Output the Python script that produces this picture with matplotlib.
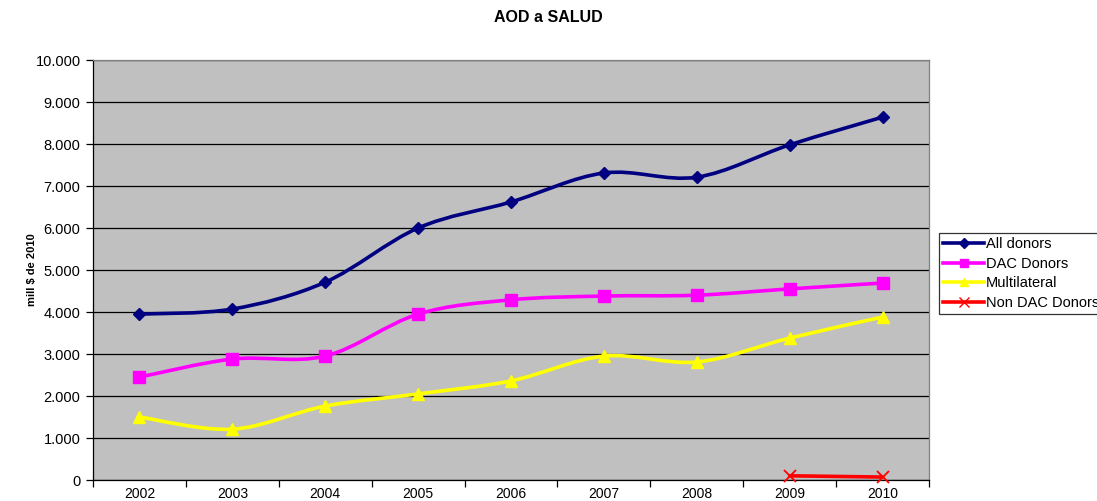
import matplotlib
matplotlib.use("Agg")
import matplotlib.pyplot as plt
from matplotlib.path import Path
from matplotlib.patches import PathPatch
from matplotlib.lines import Line2D
from matplotlib.ticker import FuncFormatter, FixedLocator
import numpy as np

plt.rcParams['font.family'] = ['Liberation Sans', 'DejaVu Sans']

years = ["2002", "2003", "2004", "2005", "2006", "2007", "2008", "2009", "2010"]
all_donors = [3950, 4070, 4710, 6000, 6620, 7310, 7210, 7980, 8640]
dac_donors = [2450, 2880, 2950, 3950, 4290, 4380, 4400, 4550, 4690]
multilateral = [1500, 1210, 1760, 2050, 2360, 2950, 2810, 3380, 3880]
non_dac_years = ["2009", "2010"]
non_dac = [100, 70]

fig = plt.figure(figsize=(10.97, 5.01), dpi=100)
ax = fig.add_axes([93/1097, 1-480/501, (929-93)/1097, (480-60)/501])
ax.set_facecolor("#C0C0C0")


def smooth_path(xs, ys):
    pts = np.column_stack([xs, ys]).astype(float)
    n = len(pts)
    verts = [pts[0]]
    codes = [Path.MOVETO]
    for i in range(n - 1):
        p0 = pts[i - 1] if i > 0 else pts[i]
        p1 = pts[i]
        p2 = pts[i + 1]
        p3 = pts[i + 2] if i + 2 < n else pts[i + 1]
        c1 = p1 + (p2 - p0) / 6.0
        c2 = p2 - (p3 - p1) / 6.0
        verts += [c1, c2, p2]
        codes += [Path.CURVE4] * 3
    return Path(verts, codes)


series = [
    ("All donors", years, all_donors, "#000080", "D", 6),
    ("DAC Donors", years, dac_donors, "#FF00FF", "s", 8),
    ("Multilateral", years, multilateral, "#FFFF00", "^", 8),
    ("Non DAC Donors", non_dac_years, non_dac, "#FF0000", "x", 9),
]

handles = []
for name, yrs, vals, col, mk, ms in series:
    xs = [years.index(y) for y in yrs]
    patch = PathPatch(smooth_path(xs, vals), facecolor="none", edgecolor=col,
                      lw=2.6, zorder=3, capstyle="round", joinstyle="round")
    ax.add_patch(patch)
    ax.plot(xs, vals, linestyle="none", marker=mk, markersize=ms, color=col,
            markeredgecolor=col, markeredgewidth=1.3 if mk == "x" else 1, zorder=4,
            clip_on=False)
    handles.append(Line2D([], [], color=col, lw=2.6, marker=mk,
                          markersize=ms * 0.8, markeredgecolor=col, label=name))

ax.set_xlim(-0.5, len(years) - 0.5)
ax.set_ylim(0, 10000)
ax.set_yticks(np.arange(0, 10001, 1000))
ax.yaxis.set_major_formatter(FuncFormatter(lambda v, p: f"{int(v):,}".replace(",", ".")))
ax.grid(axis="y", color="black", lw=0.9, zorder=1)
ax.set_axisbelow(True)

ax.set_xticks(range(len(years)))
ax.set_xticklabels(years)
ax.xaxis.set_minor_locator(FixedLocator(np.arange(-0.5, len(years), 1.0)))
ax.tick_params(axis="x", which="major", length=0, pad=5, labelsize=10)
ax.tick_params(axis="x", which="minor", length=5, width=0.9, direction="out")
ax.tick_params(axis="y", which="major", length=5, width=0.9, direction="out", labelsize=10.5, pad=4)

for side in ["left", "bottom"]:
    ax.spines[side].set_color("black")
    ax.spines[side].set_linewidth(0.9)
for side in ["top", "right"]:
    ax.spines[side].set_color("#808080")
    ax.spines[side].set_linewidth(0.9)

ax.set_ylabel("mill $ de 2010", fontsize=8, fontweight="bold")
ax.yaxis.set_label_coords((37 - 93) / 836, 0.5)
fig.text(548/1097, 1-18/501, "AOD a SALUD", ha="center", va="center",
         fontsize=11.5, fontweight="bold")

leg = fig.legend(handles=handles, loc="upper left",
                 bbox_to_anchor=(939/1097, 1-233/501), frameon=True,
                 fancybox=False, edgecolor="black", fontsize=10.5,
                 handlelength=2.8, handletextpad=0.1, borderpad=0.3,
                 labelspacing=0.38, borderaxespad=0)
leg.get_frame().set_linewidth(0.9)

fig.savefig("out.png", dpi=100, facecolor="white")
